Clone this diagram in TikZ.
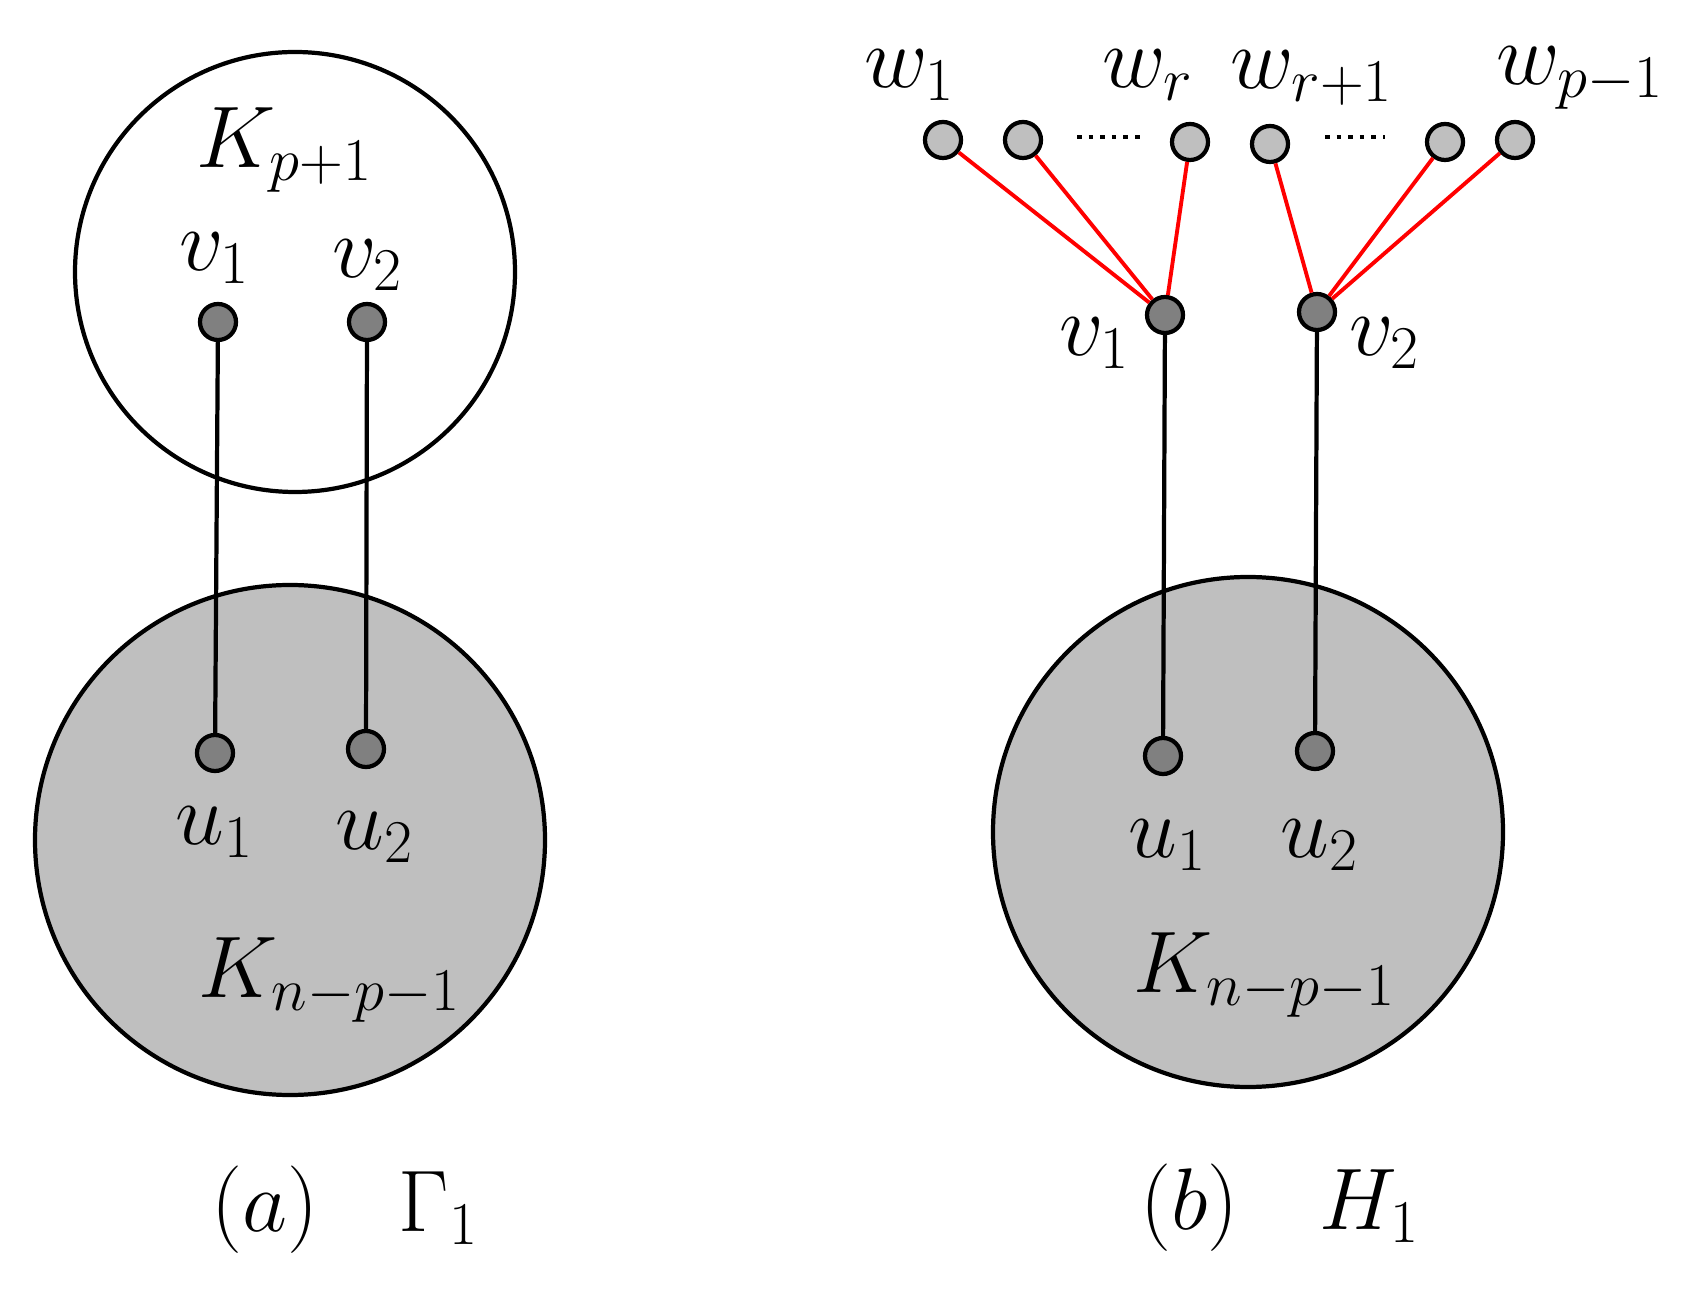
\documentclass[tikz,border=0pt]{standalone}
\begin{document}
\begin{tikzpicture}[x=0.01cm,y=-0.01cm,
  big/.style={draw=black,line width=1.2pt},
  dv/.style={circle,draw=black,line width=1.2pt,fill=black!50,minimum size=0.36cm,inner sep=0pt},
  lv/.style={circle,draw=black,line width=1.2pt,fill=black!25,minimum size=0.36cm,inner sep=0pt},
  e/.style={line width=1.2pt},
  re/.style={red,line width=1.1pt},
  lab/.style={font=\fontsize{23}{26}\selectfont}]
\useasboundingbox (0,0) rectangle (1694,1298);
\draw[big] (295,272) circle (220);
\draw[big,fill=black!25] (290,840) circle (255);
\draw[big,fill=black!25] (1248,832) circle (255);
\node[dv] (av1) at (218,322) {};
\node[dv] (av2) at (367,322) {};
\node[dv] (au1) at (215,753) {};
\node[dv] (au2) at (366,749) {};
\draw[e] (av1) -- (au1); \draw[e] (av2) -- (au2);
\node[dv] (bv1) at (1165,315) {};
\node[dv] (bv2) at (1317,312) {};
\node[dv] (bu1) at (1163,756) {};
\node[dv] (bu2) at (1315,751) {};
\draw[e] (bv1) -- (bu1); \draw[e] (bv2) -- (bu2);
\node[lv] (w1) at (943,140) {};
\node[lv] (w2) at (1023,140) {};
\node[lv] (wr) at (1190,142) {};
\node[lv] (wr1) at (1270,144) {};
\node[lv] (wp2) at (1445,142) {};
\node[lv] (wp1) at (1515,140) {};
\draw[re] (w1) -- (bv1); \draw[re] (w2) -- (bv1); \draw[re] (wr) -- (bv1);
\draw[re] (wr1) -- (bv2); \draw[re] (wp2) -- (bv2); \draw[re] (wp1) -- (bv2);
\draw[line width=1.3pt,dotted] (1077,137) -- (1140,137);
\draw[line width=1.3pt,dotted] (1325,137) -- (1385,137);
\node[lab] at (285,150) {$K_{p+1}$};
\node[lab] at (215,258) {$v_1$};
\node[lab] at (368,265) {$v_2$};
\node[lab] at (215,832) {$u_1$};
\node[lab] at (375,837) {$u_2$};
\node[lab] at (330,980) {$K_{n-p-1}$};
\node[lab] at (910,75) {$w_1$};
\node[lab] at (1148,75) {$w_r$};
\node[lab] at (1312,78) {$w_{r+1}$};
\node[lab] at (1580,78) {$w_{p-1}$};
\node[lab] at (1095,343) {$v_1$};
\node[lab] at (1385,343) {$v_2$};
\node[lab] at (1168,845) {$u_1$};
\node[lab] at (1320,845) {$u_2$};
\node[lab] at (1265,975) {$K_{n-p-1}$};
\node[lab] at (345,1210) {$(a)\quad\Gamma_1$};
\node[lab] at (1280,1208) {$(b)\quad H_1$};
\end{tikzpicture}
\end{document}
